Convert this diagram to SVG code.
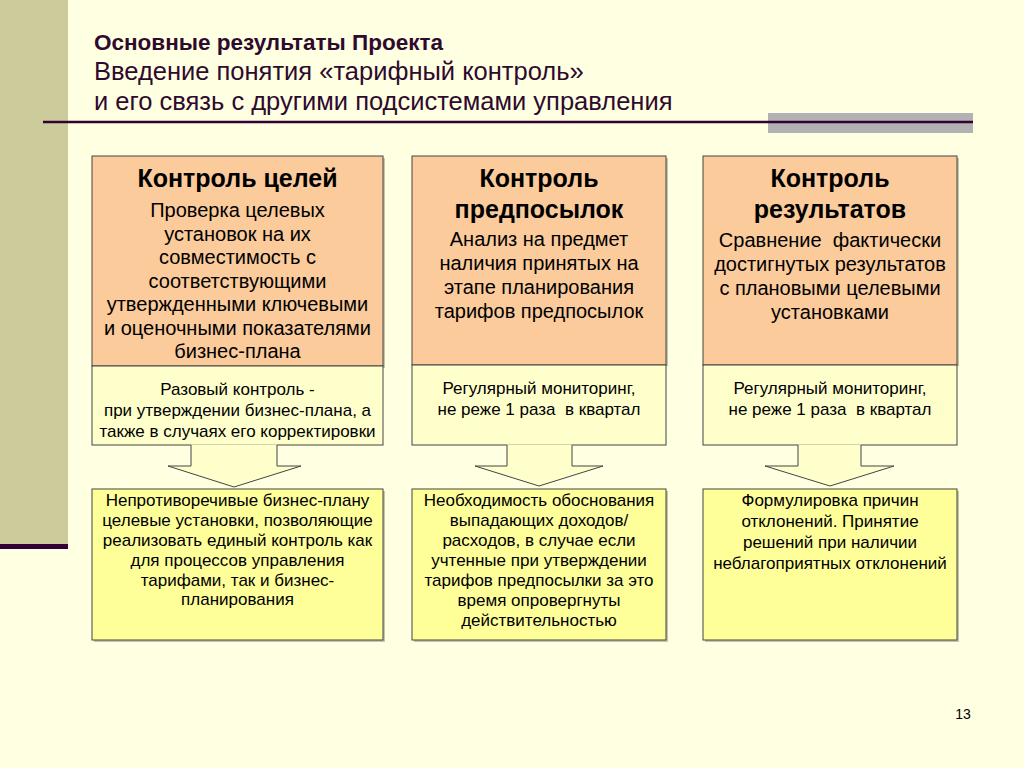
<svg xmlns="http://www.w3.org/2000/svg" width="1024" height="768" viewBox="0 0 1024 768">
<style>
.hd{font-family:"Liberation Sans",Arial,sans-serif;fill:#2E0A2E}
.t{font-family:"Liberation Sans",Arial,sans-serif;fill:#000;text-anchor:middle;white-space:pre}
.tb{font-weight:bold;font-size:25px}
.tx{font-size:20px}
.sm{font-size:17px}
.box{stroke:#444;stroke-width:1}
.org{fill:#FBCB9B}
.lt{fill:#FFFFCC}
.yl{fill:#FFFF99}
.sh{fill:#8C8C70;opacity:0.5}
</style>
<rect width="1024" height="768" fill="#FFFFE1"/>
<rect x="0" y="0" width="68" height="545" fill="#CBCB9C"/>
<rect x="0" y="544" width="68" height="5" fill="#330033"/>
<rect x="768" y="113" width="205" height="20" fill="#B2B2B2"/>
<line x1="43" y1="122" x2="973" y2="122" stroke="#330033" stroke-width="2.5"/>
<g id="header">
<text class="hd" x="94" y="50" font-size="22.5" font-weight="bold">Основные результаты Проекта</text>
<text class="hd" x="94" y="80" font-size="25.5">Введение понятия «тарифный контроль»</text>
<text class="hd" x="94" y="110" font-size="25.5">и его связь с другими подсистемами управления</text>
</g>

<g id="goals-control">
<rect class="sh" x="94" y="158" width="291" height="210"/>
<rect class="box org" x="92" y="156" width="291" height="210"/>
<text class="t tb" x="237.5" y="187">Контроль целей</text>
<text class="t tx" x="237.5" y="217">Проверка целевых</text>
<text class="t tx" x="237.5" y="240.5">установок на их</text>
<text class="t tx" x="237.5" y="264">совместимость с</text>
<text class="t tx" x="237.5" y="287.5">соответствующими</text>
<text class="t tx" x="237.5" y="311">утвержденными ключевыми</text>
<text class="t tx" x="237.5" y="334.5">и оценочными показателями</text>
<text class="t tx" x="237.5" y="358">бизнес-плана</text>
</g>
<g id="premises-control">
<rect class="sh" x="414" y="158" width="254" height="208"/>
<rect class="box org" x="412" y="156" width="254" height="209"/>
<text class="t tb" x="539" y="187">Контроль</text>
<text class="t tb" x="539" y="218">предпосылок</text>
<text class="t tx" x="539" y="246">Анализ на предмет</text>
<text class="t tx" x="539" y="270">наличия принятых на</text>
<text class="t tx" x="539" y="294">этапе планирования</text>
<text class="t tx" x="539" y="318">тарифов предпосылок</text>
</g>
<g id="results-control">
<rect class="sh" x="705" y="158" width="254" height="208"/>
<rect class="box org" x="703" y="156" width="254" height="209"/>
<text class="t tb" x="830" y="187">Контроль</text>
<text class="t tb" x="830" y="218">результатов</text>
<text class="t tx" x="830" y="247">Сравнение  фактически</text>
<text class="t tx" x="830" y="271">достигнутых результатов</text>
<text class="t tx" x="830" y="295">с плановыми целевыми</text>
<text class="t tx" x="830" y="319">установками</text>
</g>

<g id="once-control">
<rect class="box lt" x="92" y="366" width="291" height="79"/>
<text class="t sm" x="237.5" y="395">Разовый контроль -</text>
<text class="t sm" x="237.5" y="416">при утверждении бизнес-плана, а</text>
<text class="t sm" x="237.5" y="437">также в случаях его корректировки</text>
</g>
<g id="regular-premises">
<rect class="box lt" x="412" y="365" width="254" height="80"/>
<text class="t sm" x="539" y="394">Регулярный мониторинг,</text>
<text class="t sm" x="539" y="415">не реже 1 раза  в квартал</text>
</g>
<g id="regular-results">
<rect class="box lt" x="703" y="365" width="254" height="80"/>
<text class="t sm" x="830" y="394">Регулярный мониторинг,</text>
<text class="t sm" x="830" y="415">не реже 1 раза  в квартал</text>
</g>

<g id="connectors">
<path d="M191,444.5 V466 H168 L234,487 L301,466 H277 V444.5 Z" fill="#FFFFCC"/>
<path d="M191,445 V466 H168 L234,487 L301,466 H277 V445" fill="none" stroke="#444" stroke-width="1"/>
<path d="M507,444.5 V466 H475 L539,486 L603,466 H572 V444.5 Z" fill="#FFFFCC"/>
<path d="M507,445 V466 H475 L539,486 L603,466 H572 V445" fill="none" stroke="#444" stroke-width="1"/>
<path d="M798,444.5 V466 H765 L830,486 L894,466 H861 V444.5 Z" fill="#FFFFCC"/>
<path d="M798,445 V466 H765 L830,486 L894,466 H861 V445" fill="none" stroke="#444" stroke-width="1"/>
</g>

<g id="consistent-goals">
<rect class="sh" x="94" y="491" width="291" height="151"/>
<rect class="box yl" x="92" y="489" width="291" height="151"/>
<text class="t sm" x="237.5" y="506">Непротиворечивые бизнес-плану</text>
<text class="t sm" x="237.5" y="526">целевые установки, позволяющие</text>
<text class="t sm" x="237.5" y="546">реализовать единый контроль как</text>
<text class="t sm" x="237.5" y="566">для процессов управления</text>
<text class="t sm" x="237.5" y="585.5">тарифами, так и бизнес-</text>
<text class="t sm" x="237.5" y="605">планирования</text>
</g>
<g id="justification">
<rect class="sh" x="414" y="491" width="254" height="151"/>
<rect class="box yl" x="412" y="489" width="254" height="151"/>
<text class="t sm" x="539" y="506">Необходимость обоснования</text>
<text class="t sm" x="539" y="526">выпадающих доходов/</text>
<text class="t sm" x="539" y="546">расходов, в случае если</text>
<text class="t sm" x="539" y="566">учтенные при утверждении</text>
<text class="t sm" x="539" y="586">тарифов предпосылки за это</text>
<text class="t sm" x="539" y="606">время опровергнуты</text>
<text class="t sm" x="539" y="626">действительностью</text>
</g>
<g id="deviations">
<rect class="sh" x="705" y="491" width="254" height="151"/>
<rect class="box yl" x="703" y="489" width="254" height="151"/>
<text class="t sm" x="830" y="506">Формулировка причин</text>
<text class="t sm" x="830" y="527">отклонений. Принятие</text>
<text class="t sm" x="830" y="548">решений при наличии</text>
<text class="t sm" x="830" y="569">неблагоприятных отклонений</text>
</g>

<text x="963" y="719" font-family="&quot;Liberation Sans&quot;,Arial,sans-serif" font-size="14" fill="#000" text-anchor="middle">13</text>
</svg>
